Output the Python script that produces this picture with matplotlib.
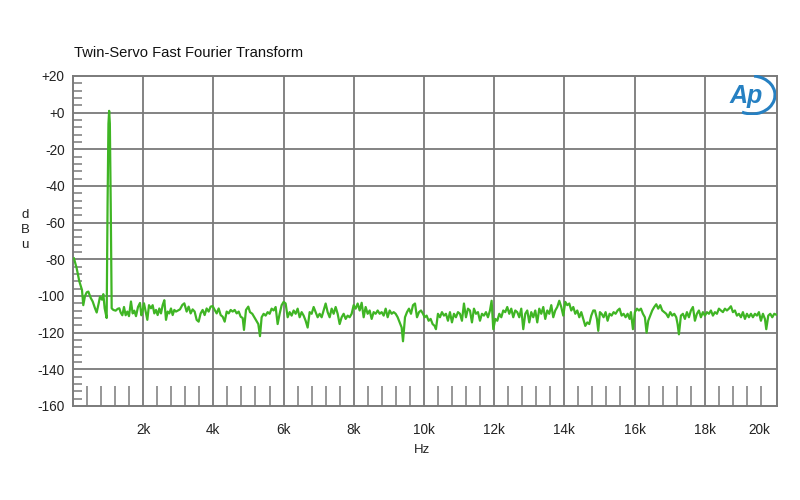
import matplotlib
matplotlib.use('Agg')
import matplotlib.pyplot as plt
from matplotlib.patches import Arc

plt.rcParams['font.family'] = ['Liberation Sans', 'DejaVu Sans']

# FFT trace (Hz, dBu)
freq_hz = [
    28, 105, 180, 256, 293, 342, 390, 437, 504, 561, 627, 675, 732, 769, 826, 864, 902, 959,
    985, 1010, 1030, 1050, 1075,
    1102, 1150, 1216, 1273, 1320, 1358, 1406, 1453, 1500, 1548, 1595, 1652, 1700, 1747, 1795,
    1852, 1909, 1947, 1985, 2023, 2070, 2118, 2165, 2222, 2270, 2317, 2365, 2412, 2460, 2507,
    2555, 2602, 2650, 2697, 2745, 2792, 2840, 2887, 2935, 2982, 3048, 3115, 3172, 3238, 3295,
    3352, 3409, 3466, 3523, 3580, 3637, 3694, 3751, 3808, 3865, 3922, 3979, 4037, 4094, 4151,
    4208, 4265, 4322, 4379, 4436, 4493, 4550, 4607, 4664, 4721, 4778, 4835, 4872, 4929, 4995,
    5043, 5109, 5166, 5223, 5280, 5328, 5375, 5432, 5489, 5546, 5603, 5660, 5717, 5774, 5831,
    5888, 5945, 6002, 6059, 6116, 6173, 6230, 6287, 6344, 6401, 6458, 6515, 6572, 6629, 6686,
    6743, 6800, 6857, 6914, 6971, 7028, 7085, 7142, 7199, 7256, 7313, 7370, 7427, 7484, 7541,
    7598, 7655, 7712, 7769, 7826, 7883, 7940, 7997, 8054, 8111, 8168, 8225, 8282, 8339, 8396,
    8453, 8510, 8567, 8624, 8681, 8738, 8795, 8852, 8909, 8966, 9023, 9080, 9137, 9194, 9251,
    9308, 9365, 9403, 9460, 9517, 9574, 9631, 9688, 9745, 9802, 9859, 9916, 9973,
    10019, 10076, 10133, 10190, 10247, 10304, 10342, 10399, 10456, 10513, 10570, 10627, 10684,
    10741, 10798, 10855, 10912, 10969, 11026, 11083, 11140, 11197, 11254, 11311, 11368, 11425,
    11482, 11539, 11596, 11653, 11710, 11767, 11824, 11881, 11928, 11976, 12033, 12090, 12147,
    12204, 12260, 12317, 12374, 12431, 12488, 12545, 12602, 12659, 12716, 12773, 12830, 12887,
    12944, 13001, 13058, 13115, 13172, 13229, 13286, 13343, 13400, 13457, 13514, 13571, 13628,
    13685, 13742, 13799, 13856, 13913, 13970, 14027, 14084, 14141, 14198, 14255, 14312, 14369,
    14426, 14483, 14540, 14597, 14654, 14711, 14768, 14825,
    14872, 14929, 14967, 15014, 15062, 15119, 15176, 15233, 15290, 15347, 15404, 15461, 15518,
    15575, 15632, 15689, 15746, 15803, 15860, 15898, 15955, 16012, 16069, 16126, 16183, 16240,
    16296, 16344, 16391, 16448, 16505, 16562, 16619, 16676, 16733, 16790, 16847, 16904, 16961,
    17018, 17075, 17132, 17189, 17227, 17265, 17322, 17379, 17436, 17493, 17550, 17607, 17664,
    17721, 17778, 17835, 17892, 17949, 18006, 18063, 18120, 18177, 18234, 18291, 18348, 18405,
    18462, 18519, 18576, 18633, 18690, 18747, 18804, 18861, 18918, 18975, 19032, 19089, 19146,
    19203, 19260, 19317, 19374, 19431, 19488, 19545, 19602, 19659, 19716, 19754, 19811, 19868,
    19925, 19982, 20048,
]
level_dbu = [
    -79.5, -84.9, -92.0, -96.7, -105.0, -100.0, -98.0, -97.6, -101.0, -103.0, -106.7, -109.0,
    -104.0, -100.4, -102.0, -99.0, -106.7, -112.0,
    -50.0, -6.0, 1.0, -6.0, -50.0,
    -106.7, -107.6, -108.0, -107.0, -106.7, -109.0, -110.5, -106.0, -110.5, -108.5, -111.0,
    -103.0, -109.5, -108.0, -111.0, -106.0, -103.8, -110.5, -107.8, -104.0, -108.5, -113.0,
    -105.0, -106.7, -105.0, -109.5, -107.6, -110.4, -106.8, -109.5, -105.0, -102.3, -113.0,
    -108.5, -109.5, -106.8, -110.4, -107.6, -108.5, -108.0, -107.3, -104.9, -104.0, -108.5,
    -105.8, -109.5, -107.3, -108.5, -113.0, -114.0, -109.5, -107.6, -110.4, -106.8, -108.5,
    -105.8, -105.5, -107.6, -109.5, -106.8, -110.4, -111.3, -114.0, -108.5, -109.5, -107.6,
    -108.5, -107.6, -109.5, -108.5, -111.3, -112.0, -118.5, -107.6, -105.8,
    -108.8, -109.7, -111.6, -113.5, -115.3, -121.9, -111.6, -109.7, -110.7, -108.8, -109.7,
    -106.9, -107.9, -106.0, -115.3, -109.7, -105.0, -103.2, -104.1, -111.6, -108.8, -110.7,
    -107.9, -109.7, -106.9, -111.6, -108.8, -110.7, -113.5, -117.2, -108.8, -109.7, -106.0,
    -108.8, -111.6, -109.7, -111.6, -107.9, -104.1, -108.8, -111.6, -106.9, -109.7, -106.0,
    -109.7, -115.3, -111.6, -109.7, -112.5, -110.7, -111.6, -109.7, -105.0, -106.9, -104.1,
    -107.9, -103.7, -111.6, -106.0, -109.7, -107.9, -112.5, -108.8, -109.7, -107.9, -109.7,
    -108.8, -110.7, -106.9, -111.6, -107.9, -109.7, -108.8, -109.7, -111.6, -114.4, -117.2,
    -124.7, -111.6, -108.8, -106.9, -109.7, -105.0, -104.1, -111.6, -108.8, -107.9, -109.7,
    -111.6, -110.7, -113.5, -112.5, -115.3, -116.3, -118.1, -109.7, -111.6, -108.8, -110.7,
    -109.7, -113.5, -108.8, -114.4, -109.7, -111.6, -108.8, -109.7, -113.5, -104.1, -111.6,
    -106.9, -107.9, -114.4, -106.9, -109.7, -108.8, -113.5, -109.7, -110.7, -108.8, -111.6,
    -107.9, -102.6, -118.1, -112.5, -113.5, -109.7, -111.6, -107.9, -108.8, -106.0, -109.7,
    -106.9, -111.6, -107.9, -108.8, -111.6, -106.9, -118.1, -109.7, -107.9, -114.4, -108.8,
    -111.6, -107.9, -114.4, -106.9, -109.7, -106.0, -112.5, -107.9, -109.7, -105.0, -111.6,
    -107.9, -106.0, -102.6, -106.0, -110.7, -103.2, -105.0, -104.1, -107.9, -106.0, -109.7,
    -107.9, -111.6, -108.8, -112.5, -116.3, -114.4, -115.3, -110.7, -107.9,
    -107.9, -112.5, -119.0, -108.8, -109.7, -111.6, -108.8, -113.5, -109.7, -110.7, -108.8,
    -109.7, -107.9, -106.9, -110.7, -109.7, -111.6, -109.7, -112.5, -108.8, -118.1, -108.8,
    -106.9, -107.9, -106.9, -109.7, -111.6, -120.0, -113.5, -110.7, -107.9, -106.0, -104.5,
    -106.9, -105.0, -107.9, -108.8, -109.7, -111.6, -108.8, -110.7, -109.7, -111.6, -115.3,
    -120.9, -110.7, -109.7, -112.5, -108.8, -111.6, -107.9, -106.0, -113.5, -109.7, -107.9,
    -111.6, -108.8, -110.7, -108.8, -109.7, -107.9, -110.7, -108.8, -109.7, -106.9, -107.9,
    -108.8, -106.9, -107.9, -106.9, -105.6, -108.8, -107.9, -110.7, -109.7, -111.6, -108.8,
    -112.5, -109.7, -111.6, -109.7, -111.6, -109.7, -110.7, -108.8, -113.5, -109.7, -112.5,
    -118.1, -110.7, -109.7, -111.6, -109.7, -110.3,
]

x_grid = [2000, 4000, 6000, 8000, 10000, 12000, 14000, 16000, 18000]
x_labels = ['2k', '4k', '6k', '8k', '10k', '12k', '14k', '16k', '18k']
y_major = [-160, -140, -120, -100, -80, -60, -40, -20, 0, 20]
y_labels = ['-160', '-140', '-120', '-100', '-80', '-60', '-40', '-20', '+0', '+20']

grid_col = '#7a7a7a'

fig = plt.figure(figsize=(8, 5), dpi=100)
ax = fig.add_axes([73 / 800, 94 / 500, 704 / 800, 330 / 500])

# grid lines drawn by hand (no line at 20k)
for x in x_grid:
    ax.axvline(x, color=grid_col, linewidth=1.3, zorder=1)
for y in y_major[1:-1]:
    ax.axhline(y, color=grid_col, linewidth=1.3, zorder=1)

ax.plot(freq_hz, level_dbu, color='#3fb524', linewidth=1.6, zorder=3)

ax.set_xlim(0, 20060)
ax.set_ylim(-160, 20)

# major ticks: labels only
ax.set_xticks(x_grid + [19560])
ax.set_xticklabels(x_labels + ['20k'])
ax.set_yticks(y_major)
ax.set_yticklabels(y_labels)
ax.tick_params(axis='both', which='major', length=0, labelsize=9.8, colors='#222222')
ax.tick_params(axis='x', which='major', pad=12)
ax.tick_params(axis='y', which='major', pad=6)

# minor ticks, inside
x_minor = [f for f in range(400, 20000, 400) if f % 2000 != 0]
y_minor = [v for v in range(-156, 20, 4) if v % 20 != 0]
ax.set_xticks(x_minor, minor=True)
ax.set_yticks(y_minor, minor=True)
ax.tick_params(axis='x', which='minor', direction='in', length=14.5, width=1.1, color=grid_col)
ax.tick_params(axis='y', which='minor', direction='in', length=6.5, width=1.1, color=grid_col)

for s in ax.spines.values():
    s.set_color(grid_col)
    s.set_linewidth(1.4)

fig.text(74 / 800, 1 - 57 / 500, 'Twin-Servo Fast Fourier Transform', fontsize=10.6,
         ha='left', va='baseline', color='#111111')
fig.text(25 / 800, 1 - 230 / 500, 'd\nB\nu', fontsize=9.5, ha='center', va='center',
         linespacing=1.3, color='#222222')
fig.text(422 / 800, 1 - 450 / 500, 'Hz', fontsize=9.5, ha='center', va='center', color='#222222')

# AP logo
logo = fig.add_axes([726 / 800, 1 - 115 / 500, 50 / 800, 40 / 500])
logo.set_xlim(0, 1)
logo.set_ylim(0, 1)
logo.axis('off')
logo.text(0.40, 0.47, 'Ap', fontsize=18, fontstyle='italic', fontweight='bold',
          color='#2680c2', ha='center', va='center')
logo.add_patch(Arc((0.52, 0.5), 0.92, 0.95, theta1=-115, theta2=85, color='#2680c2', linewidth=2.2))

fig.savefig('out.png', dpi=100)
